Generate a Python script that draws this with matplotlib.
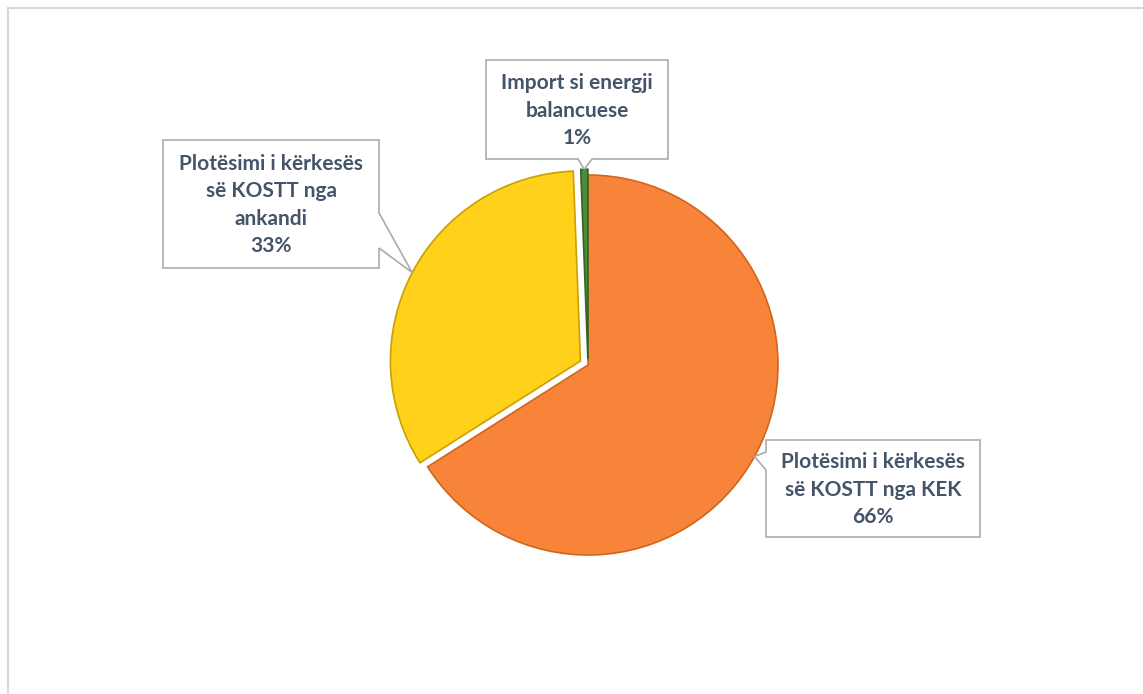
import numpy as np
import matplotlib.pyplot as plt
from matplotlib.patches import Polygon

# data
labels = ['Plotësimi i kërkesës\nsë KOSTT nga KEK',
          'Plotësimi i kërkesës\nsë KOSTT nga\nankandi',
          'Import si energji\nbalancuese']
values = [66.0, 33.4, 0.6]
colors = ['#F8843A', '#FFD11A', '#4E8C3A']
edges = ['#D0651C', '#C9A100', '#2F6424']
explode = [0.0, 0.045, 0.03]

W, H = 1143, 694
fig = plt.figure(figsize=(W/100, H/100), dpi=100)
fig.patch.set_facecolor('white')

# pie axes: centre (588,365) px, radius 190 px
cx, cy, R = 588, 365, 190
ax = fig.add_axes([(cx-R)/W, (H-cy-R)/H, 2*R/W, 2*R/H])
wedges, _ = ax.pie(values, colors=colors, explode=explode, startangle=90,
                   counterclock=False,
                   wedgeprops=dict(linewidth=1.2))
for w, ec in zip(wedges, edges):
    w.set_edgecolor(ec)
ax.set_xlim(-1, 1)
ax.set_ylim(-1, 1)
ax.set_aspect('equal')
ax.axis('off')

# overlay in pixel coordinates (origin top-left)
ov = fig.add_axes([0, 0, 1, 1], zorder=5)
ov.set_xlim(0, W)
ov.set_ylim(H, 0)
ov.axis('off')
ov.patch.set_alpha(0)

# chart border (only top and left visible)
ov.plot([8, W], [8, 8], color='#D9D9D9', lw=1.5)
ov.plot([8, 8], [8, H], color='#D9D9D9', lw=1.5)


def tip_point(w):
    ang = np.deg2rad((w.theta1 + w.theta2) / 2)
    x = w.center[0] + w.r * np.cos(ang)
    y = w.center[1] + w.r * np.sin(ang)
    dx, dy = ax.transData.transform((x, y))
    return dx, H - dy


def callout(box, side, base, tip, text):
    x0, y0, x1, y1 = box
    if side == 'bottom':
        pts = [(x0, y0), (x1, y0), (x1, y1), (base[1], y1), tip, (base[0], y1), (x0, y1)]
    elif side == 'right':
        pts = [(x0, y0), (x1, y0), (x1, base[0]), tip, (x1, base[1]), (x1, y1), (x0, y1)]
    else:
        pts = [(x0, y0), (x1, y0), (x1, y1), (x0, y1), (x0, base[1]), tip, (x0, base[0])]
    ov.add_patch(Polygon(pts, closed=True, fc='white', ec='#ABABAB', lw=1.2, zorder=6))
    ov.text((x0 + x1) / 2, (y0 + y1) / 2 + 1, text, ha='center', va='center',
            fontsize=15, fontweight='bold', family='Lato', color='#44546A',
            linespacing=1.45, zorder=7)


texts = [f'{l}\n{v:.0f}%' for l, v in zip(labels, values)]
callout((766, 440, 980, 537), 'left', (452, 470), tip_point(wedges[0]), texts[0])
callout((163, 140, 379, 268), 'right', (213, 248), tip_point(wedges[1]), texts[1])
callout((486, 60, 668, 159), 'bottom', (578, 592), tip_point(wedges[2]), texts[2])

fig.savefig('out.png', dpi=100, facecolor='white')
